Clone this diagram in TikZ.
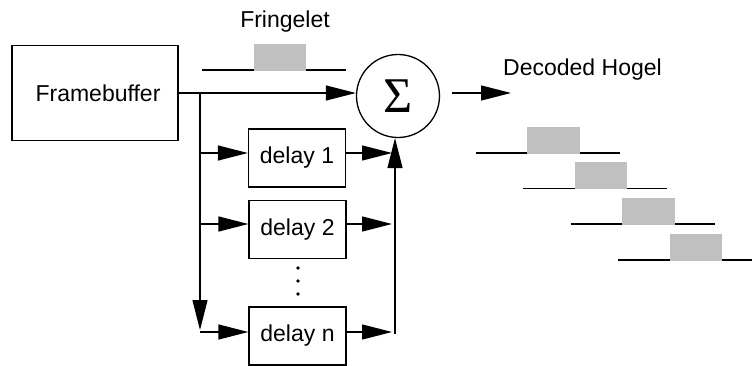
\documentclass[tikz,border=0pt]{standalone}
\usepackage{fontspec}
\setmainfont{Liberation Sans}
\newfontfamily\sigmafont{Liberation Serif}
\usetikzlibrary{arrows.meta}
\definecolor{fringegray}{RGB}{192,192,192}
\begin{document}
\begin{tikzpicture}[x=1pt,y=-1pt,line width=1.3pt,
  arr/.style={-{Triangle[length=30pt,width=15pt]}},
  box/.style={draw,rectangle,inner sep=0pt,font=\fontsize{23}{27}\selectfont},
  delaybox/.style={box,minimum width=97pt,minimum height=58pt},
  lbl/.style={font=\fontsize{23}{27}\selectfont,inner sep=0pt,anchor=base},
  fringelet/.pic={\draw (0,0) -- (144,0); \fill[fringegray] (51.5,-26) rectangle (104,0.9);}]
\useasboundingbox (0,0) rectangle (752,366);

% nodes
\node[box,minimum width=166pt,minimum height=95pt] (fb) at (95,93) {\hspace{6pt}Framebuffer};
\node[draw,circle,minimum size=83pt,inner sep=0pt] (sum) at (398,96) {\sigmafont\fontsize{50}{50}\selectfont Σ};
\node[delaybox] (d1) at (297,158) {delay 1};
\node[delaybox] (d2) at (297.5,229.5) {delay 2};
\node[delaybox] (dn) at (297.5,336) {delay n};
\node[lbl] (fl) at (285,28) {Fringelet};
\node[lbl] (dh) at (582.5,76) {Decoded Hogel};

% helper coordinates
\coordinate (t) at (200,93);
\coordinate (vb) at (200,330);
\coordinate (r) at (395,334);
\coordinate (ho) at (511,93);
\coordinate (d1i) at ([yshift=5pt]d1.west);
\coordinate (d2i) at ([yshift=5.5pt]d2.west);
\coordinate (dni) at ([yshift=4pt]dn.west);
\coordinate (d1o) at ([yshift=5pt]d1.east);
\coordinate (d2o) at ([yshift=5.5pt]d2.east);
\coordinate (dno) at ([yshift=4pt]dn.east);

% connectors
\draw[arr] (fb.east) -- (fb.east -| sum.west);
\draw[arr] (t) -- (vb);
\draw[arr] (t |- d1i) -- (d1i);
\draw[arr] (t |- d2i) -- (d2i);
\draw[arr] (t |- dni) -- (dni);
\draw[arr,shorten >=3pt] (d1o) -- (d1o -| r);
\draw[arr,shorten >=3pt] (d2o) -- (d2o -| r);
\draw[arr,shorten >=3pt] (dno) -- (dno -| r);
\draw[arr] (r) -- (r |- sum.south);
\draw[arr] ([xshift=12pt]sum.east |- fb.east) -- (ho);

% dots
\fill (298,268) circle (1.9);
\fill (298,281) circle (1.9);
\fill (298,294) circle (1.9);

% fringelets
\pic at (202,70) {fringelet};
\pic at (475.5,153) {fringelet};
\pic at (523,188.5) {fringelet};
\pic at (570.5,224) {fringelet};
\pic at (618,260) {fringelet};
\end{tikzpicture}
\end{document}
